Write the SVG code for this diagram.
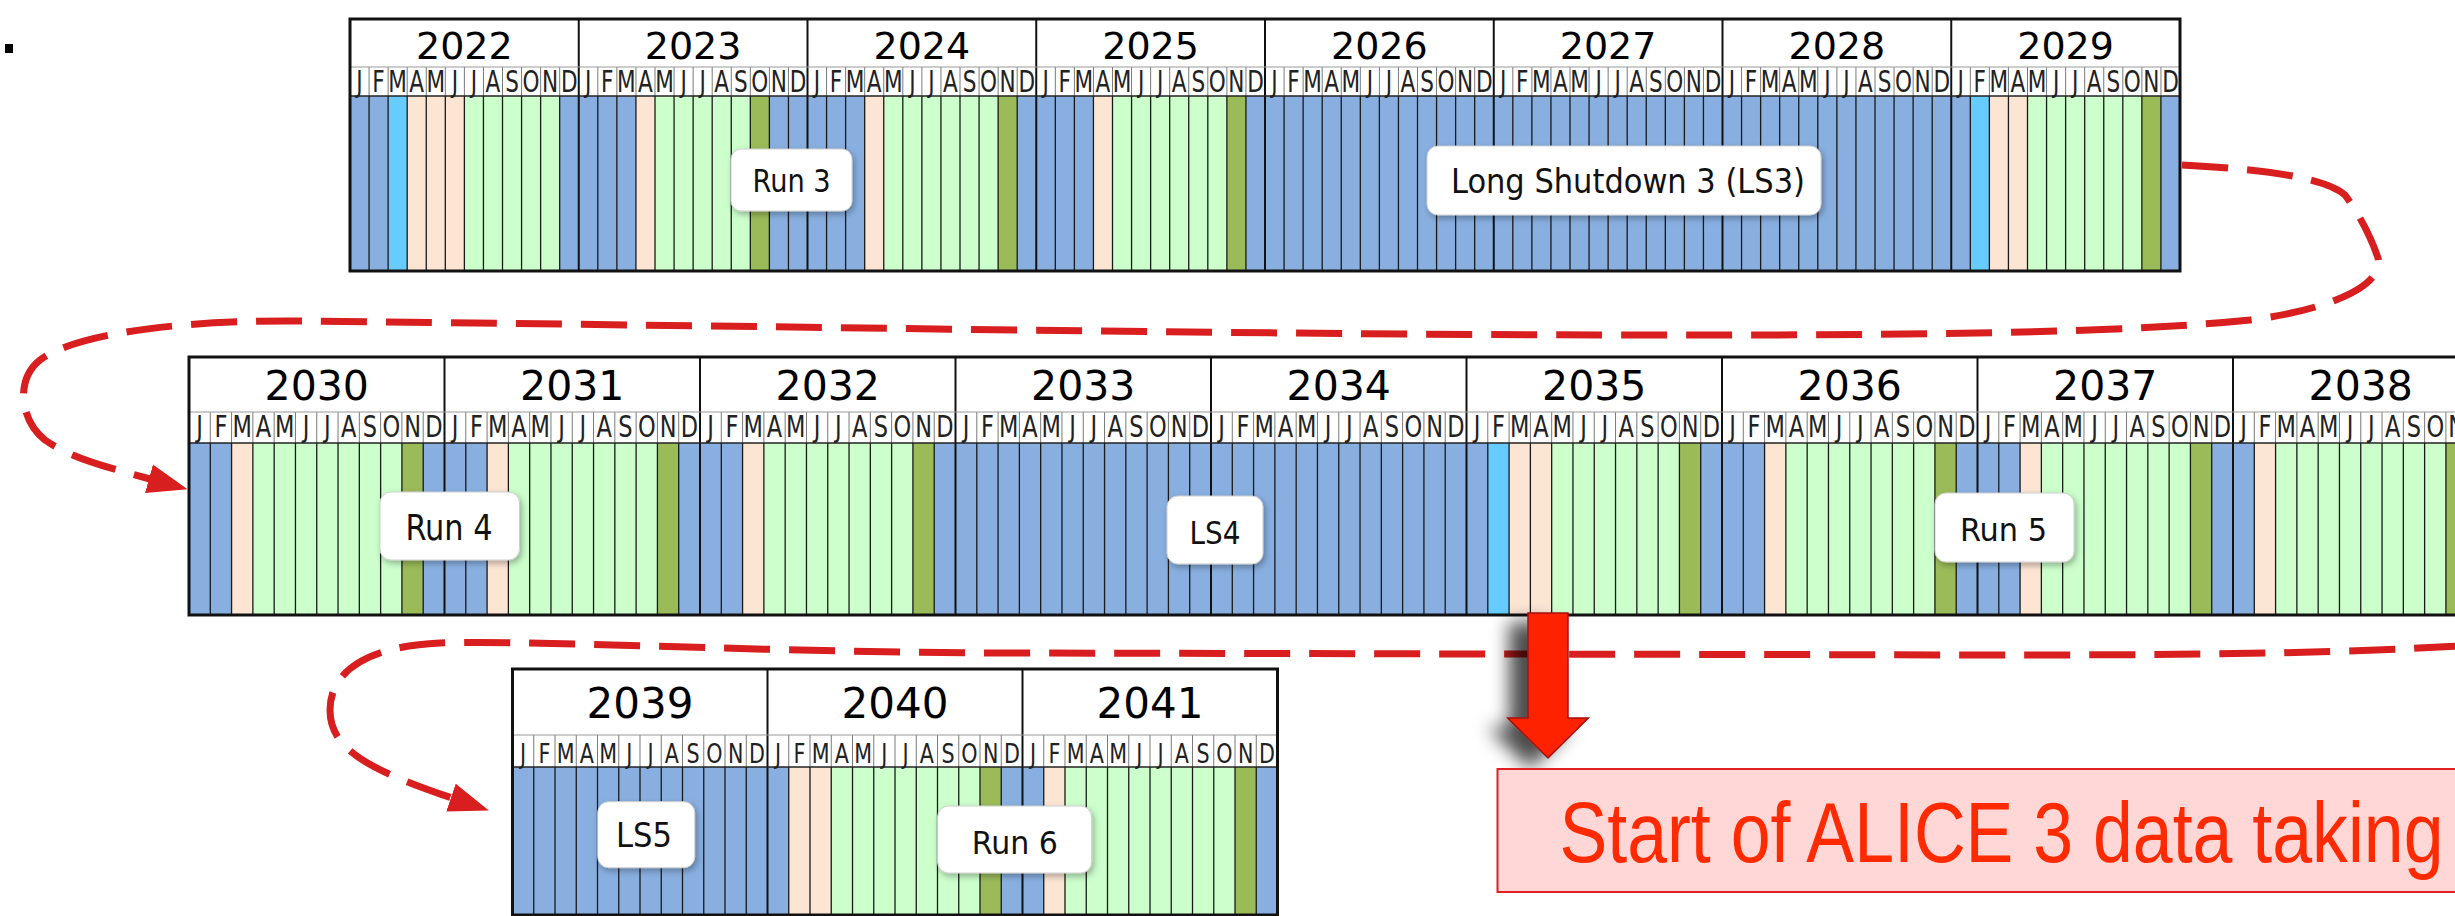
<svg xmlns="http://www.w3.org/2000/svg" xmlns:xlink="http://www.w3.org/1999/xlink" width="2455" height="916" viewBox="0 0 2455 916">
<style>
.b{fill:#88afe0}
.c{fill:#66ccff}
.p{fill:#fde5d4}
.g{fill:#ccffcc}
.o{fill:#9bbb59}
.hdr{fill:#ffffff}
.ml{stroke:#1a1a1a;stroke-width:1.3;fill:none}
.hl{stroke:#7a7a7a;stroke-width:1;fill:none}
.yl{stroke:#111;stroke-width:2;fill:none}
.bd{stroke:#111;stroke-width:3;fill:none}
.sp1{stroke:#999;stroke-width:1;fill:none}
.sp2{stroke:#222;stroke-width:1.6;fill:none}
.yr{font-family:'DejaVu Sans','Liberation Sans',sans-serif;text-anchor:middle;fill:#000}
.yr1{font-size:38px}
.yr2{font-size:41px}
.yr3{font-size:42px}
.mo{font-family:'DejaVu Sans Condensed','DejaVu Sans',sans-serif;font-stretch:condensed;text-anchor:middle;fill:#222}
.mo1{font-size:24px}
.mo2{font-size:25px}
.mo3{font-size:23px}
.box{fill:#ffffff;stroke:#cfcfcf;stroke-width:1}
.lbl{font-family:'DejaVu Sans Condensed','DejaVu Sans',sans-serif;font-stretch:condensed;text-anchor:middle;fill:#111}
.dash{fill:none;stroke:#d81e1e;stroke-width:7;stroke-dasharray:46 19}
</style>
<defs>
<filter id="sh" x="-20%" y="-20%" width="140%" height="150%">
<feDropShadow dx="2" dy="3" stdDeviation="3" flood-color="#000" flood-opacity="0.3"/>
</filter>
<filter id="ash" x="-100%" y="-20%" width="240%" height="150%">
<feDropShadow dx="-18" dy="10" stdDeviation="9" flood-color="#000" flood-opacity="0.7"/>
</filter>
<marker id="ah" markerUnits="userSpaceOnUse" markerWidth="40" markerHeight="30" viewBox="0 0 38 28" refX="1" refY="14" orient="auto">
<path d="M0 0L38 14L0 28Z" fill="#d81e1e"/>
</marker>
<g id="grid1">
<path class="hl" d="M19.0625 67V96m19.0625-29V96m19.0625-29V96m19.0625-29V96m19.0625-29V96m19.0625-29V96m19.0625-29V96m19.0625-29V96m19.0625-29V96m19.0625-29V96m19.0625-29V96"/>
<path class="ml" d="M19.0625 96V271m19.0625-175V271m19.0625-175V271m19.0625-175V271m19.0625-175V271m19.0625-175V271m19.0625-175V271m19.0625-175V271m19.0625-175V271m19.0625-175V271m19.0625-175V271"/>
<path class="yl" d="M0 19V271"/>
</g>
<g id="grid2">
<path class="hl" d="M21.2917 412V443m21.2917-31V443m21.2917-31V443m21.2917-31V443m21.2917-31V443m21.2917-31V443m21.2917-31V443m21.2917-31V443m21.2917-31V443m21.2917-31V443m21.2917-31V443"/>
<path class="ml" d="M21.2917 443V615m21.2917-172V615m21.2917-172V615m21.2917-172V615m21.2917-172V615m21.2917-172V615m21.2917-172V615m21.2917-172V615m21.2917-172V615m21.2917-172V615m21.2917-172V615"/>
<path class="yl" d="M0 357V615"/>
</g>
<g id="grid3">
<path class="hl" d="M21.25 735V767m21.25-32V767m21.25-32V767m21.25-32V767m21.25-32V767m21.25-32V767m21.25-32V767m21.25-32V767m21.25-32V767m21.25-32V767m21.25-32V767"/>
<path class="ml" d="M21.25 767V916m21.25-149V916m21.25-149V916m21.25-149V916m21.25-149V916m21.25-149V916m21.25-149V916m21.25-149V916m21.25-149V916m21.25-149V916m21.25-149V916"/>
<path class="yl" d="M0 669V916"/>
</g>
</defs>
<rect x="0" y="0" width="2455" height="916" fill="#ffffff"/>
<rect id="bullet" x="5" y="44" width="8" height="9" fill="#000"/>

<g id="row1">
<rect class="b" x="350" y="96" width="1830" height="175"/>
<rect class="hdr" x="350" y="19" width="1830" height="77"/>
<g id="y2022" transform="translate(350 0)">
<rect class="c" x="38.125" y="96" width="19.0625" height="175"/>
<rect class="p" x="57.1875" y="96" width="57.1875" height="175"/>
<rect class="g" x="114.375" y="96" width="95.3125" height="175"/>
<use href="#grid1"/>
<text class="yr yr1" x="114.375" y="58.5">2022</text>
<text class="mo mo1" transform="translate(0 91.5) scale(1 1.22)" x="9.53 28.59 47.66 66.72 85.78 104.84 123.91 142.97 162.03 181.09 200.16 219.22" y="0">JFMAMJJASOND</text>
</g>
<g id="y2023" transform="translate(578.75 0)">
<rect class="p" x="57.1875" y="96" width="19.0625" height="175"/>
<rect class="g" x="76.25" y="96" width="95.3125" height="175"/>
<rect class="o" x="171.5625" y="96" width="19.0625" height="175"/>
<use href="#grid1"/>
<text class="yr yr1" x="114.375" y="58.5">2023</text>
<text class="mo mo1" transform="translate(0 91.5) scale(1 1.22)" x="9.53 28.59 47.66 66.72 85.78 104.84 123.91 142.97 162.03 181.09 200.16 219.22" y="0">JFMAMJJASOND</text>
</g>
<g id="y2024" transform="translate(807.5 0)">
<rect class="p" x="57.1875" y="96" width="19.0625" height="175"/>
<rect class="g" x="76.25" y="96" width="114.375" height="175"/>
<rect class="o" x="190.625" y="96" width="19.0625" height="175"/>
<use href="#grid1"/>
<text class="yr yr1" x="114.375" y="58.5">2024</text>
<text class="mo mo1" transform="translate(0 91.5) scale(1 1.22)" x="9.53 28.59 47.66 66.72 85.78 104.84 123.91 142.97 162.03 181.09 200.16 219.22" y="0">JFMAMJJASOND</text>
</g>
<g id="y2025" transform="translate(1036.25 0)">
<rect class="p" x="57.1875" y="96" width="19.0625" height="175"/>
<rect class="g" x="76.25" y="96" width="114.375" height="175"/>
<rect class="o" x="190.625" y="96" width="19.0625" height="175"/>
<use href="#grid1"/>
<text class="yr yr1" x="114.375" y="58.5">2025</text>
<text class="mo mo1" transform="translate(0 91.5) scale(1 1.22)" x="9.53 28.59 47.66 66.72 85.78 104.84 123.91 142.97 162.03 181.09 200.16 219.22" y="0">JFMAMJJASOND</text>
</g>
<g id="y2026" transform="translate(1265 0)">
<use href="#grid1"/>
<text class="yr yr1" x="114.375" y="58.5">2026</text>
<text class="mo mo1" transform="translate(0 91.5) scale(1 1.22)" x="9.53 28.59 47.66 66.72 85.78 104.84 123.91 142.97 162.03 181.09 200.16 219.22" y="0">JFMAMJJASOND</text>
</g>
<g id="y2027" transform="translate(1493.75 0)">
<use href="#grid1"/>
<text class="yr yr1" x="114.375" y="58.5">2027</text>
<text class="mo mo1" transform="translate(0 91.5) scale(1 1.22)" x="9.53 28.59 47.66 66.72 85.78 104.84 123.91 142.97 162.03 181.09 200.16 219.22" y="0">JFMAMJJASOND</text>
</g>
<g id="y2028" transform="translate(1722.5 0)">
<use href="#grid1"/>
<text class="yr yr1" x="114.375" y="58.5">2028</text>
<text class="mo mo1" transform="translate(0 91.5) scale(1 1.22)" x="9.53 28.59 47.66 66.72 85.78 104.84 123.91 142.97 162.03 181.09 200.16 219.22" y="0">JFMAMJJASOND</text>
</g>
<g id="y2029" transform="translate(1951.25 0)">
<rect class="c" x="19.0625" y="96" width="19.0625" height="175"/>
<rect class="p" x="38.125" y="96" width="38.125" height="175"/>
<rect class="g" x="76.25" y="96" width="114.375" height="175"/>
<rect class="o" x="190.625" y="96" width="19.0625" height="175"/>
<use href="#grid1"/>
<text class="yr yr1" x="114.375" y="58.5">2029</text>
<text class="mo mo1" transform="translate(0 91.5) scale(1 1.22)" x="9.53 28.59 47.66 66.72 85.78 104.84 123.91 142.97 162.03 181.09 200.16 219.22" y="0">JFMAMJJASOND</text>
</g>
<path class="sp1" d="M350 67H2180"/>
<path class="sp2" d="M350 96H2180"/>
<path class="bd" d="M350 19H2180V271H350Z"/>
</g>

<g id="row2">
<rect class="b" x="189" y="443" width="2300" height="172"/>
<rect class="hdr" x="189" y="357" width="2300" height="86"/>
<g id="y2030" transform="translate(189 0)">
<rect class="p" x="42.583" y="443" width="21.292" height="172"/>
<rect class="g" x="63.875" y="443" width="149.042" height="172"/>
<rect class="o" x="212.917" y="443" width="21.292" height="172"/>
<use href="#grid2"/>
<text class="yr yr2" x="127.75" y="400">2030</text>
<text class="mo mo2" transform="translate(0 437) scale(1 1.18)" x="10.65 31.94 53.23 74.52 95.81 117.1 138.4 159.69 180.98 202.27 223.56 244.85" y="0">JFMAMJJASOND</text>
</g>
<g id="y2031" transform="translate(444.5 0)">
<rect class="p" x="42.583" y="443" width="21.292" height="172"/>
<rect class="g" x="63.875" y="443" width="149.042" height="172"/>
<rect class="o" x="212.917" y="443" width="21.292" height="172"/>
<use href="#grid2"/>
<text class="yr yr2" x="127.75" y="400">2031</text>
<text class="mo mo2" transform="translate(0 437) scale(1 1.18)" x="10.65 31.94 53.23 74.52 95.81 117.1 138.4 159.69 180.98 202.27 223.56 244.85" y="0">JFMAMJJASOND</text>
</g>
<g id="y2032" transform="translate(700 0)">
<rect class="p" x="42.583" y="443" width="21.292" height="172"/>
<rect class="g" x="63.875" y="443" width="149.042" height="172"/>
<rect class="o" x="212.917" y="443" width="21.292" height="172"/>
<use href="#grid2"/>
<text class="yr yr2" x="127.75" y="400">2032</text>
<text class="mo mo2" transform="translate(0 437) scale(1 1.18)" x="10.65 31.94 53.23 74.52 95.81 117.1 138.4 159.69 180.98 202.27 223.56 244.85" y="0">JFMAMJJASOND</text>
</g>
<g id="y2033" transform="translate(955.5 0)">
<use href="#grid2"/>
<text class="yr yr2" x="127.75" y="400">2033</text>
<text class="mo mo2" transform="translate(0 437) scale(1 1.18)" x="10.65 31.94 53.23 74.52 95.81 117.1 138.4 159.69 180.98 202.27 223.56 244.85" y="0">JFMAMJJASOND</text>
</g>
<g id="y2034" transform="translate(1211 0)">
<use href="#grid2"/>
<text class="yr yr2" x="127.75" y="400">2034</text>
<text class="mo mo2" transform="translate(0 437) scale(1 1.18)" x="10.65 31.94 53.23 74.52 95.81 117.1 138.4 159.69 180.98 202.27 223.56 244.85" y="0">JFMAMJJASOND</text>
</g>
<g id="y2035" transform="translate(1466.5 0)">
<rect class="c" x="21.292" y="443" width="21.292" height="172"/>
<rect class="p" x="42.583" y="443" width="42.583" height="172"/>
<rect class="g" x="85.167" y="443" width="127.75" height="172"/>
<rect class="o" x="212.917" y="443" width="21.292" height="172"/>
<use href="#grid2"/>
<text class="yr yr2" x="127.75" y="400">2035</text>
<text class="mo mo2" transform="translate(0 437) scale(1 1.18)" x="10.65 31.94 53.23 74.52 95.81 117.1 138.4 159.69 180.98 202.27 223.56 244.85" y="0">JFMAMJJASOND</text>
</g>
<g id="y2036" transform="translate(1722 0)">
<rect class="p" x="42.583" y="443" width="21.292" height="172"/>
<rect class="g" x="63.875" y="443" width="149.042" height="172"/>
<rect class="o" x="212.917" y="443" width="21.292" height="172"/>
<use href="#grid2"/>
<text class="yr yr2" x="127.75" y="400">2036</text>
<text class="mo mo2" transform="translate(0 437) scale(1 1.18)" x="10.65 31.94 53.23 74.52 95.81 117.1 138.4 159.69 180.98 202.27 223.56 244.85" y="0">JFMAMJJASOND</text>
</g>
<g id="y2037" transform="translate(1977.5 0)">
<rect class="p" x="42.583" y="443" width="21.292" height="172"/>
<rect class="g" x="63.875" y="443" width="149.042" height="172"/>
<rect class="o" x="212.917" y="443" width="21.292" height="172"/>
<use href="#grid2"/>
<text class="yr yr2" x="127.75" y="400">2037</text>
<text class="mo mo2" transform="translate(0 437) scale(1 1.18)" x="10.65 31.94 53.23 74.52 95.81 117.1 138.4 159.69 180.98 202.27 223.56 244.85" y="0">JFMAMJJASOND</text>
</g>
<g id="y2038" transform="translate(2233 0)">
<rect class="p" x="21.292" y="443" width="21.292" height="172"/>
<rect class="g" x="42.583" y="443" width="170.333" height="172"/>
<rect class="o" x="212.917" y="443" width="21.292" height="172"/>
<use href="#grid2"/>
<text class="yr yr2" x="127.75" y="400">2038</text>
<text class="mo mo2" transform="translate(0 437) scale(1 1.18)" x="10.65 31.94 53.23 74.52 95.81 117.1 138.4 159.69 180.98 202.27 223.56 244.85" y="0">JFMAMJJASOND</text>
</g>
<path class="sp1" d="M189 412H2489"/>
<path class="sp2" d="M189 443H2489"/>
<path class="bd" d="M2489 357H189V615H2489"/>
</g>

<g id="row3">
<rect class="b" x="512.5" y="767" width="765" height="149"/>
<rect class="hdr" x="512.5" y="669" width="765" height="98"/>
<g id="y2039" transform="translate(512.5 0)">
<use href="#grid3"/>
<text class="yr yr3" x="127.5" y="718">2039</text>
<text class="mo mo3" transform="translate(0 763) scale(1 1.12)" x="10.63 31.88 53.13 74.38 95.63 116.88 138.13 159.38 180.63 201.88 223.13 244.38" y="0">JFMAMJJASOND</text>
</g>
<g id="y2040" transform="translate(767.5 0)">
<rect class="p" x="21.25" y="767" width="42.5" height="149"/>
<rect class="g" x="63.75" y="767" width="148.75" height="149"/>
<rect class="o" x="212.5" y="767" width="21.25" height="149"/>
<use href="#grid3"/>
<text class="yr yr3" x="127.5" y="718">2040</text>
<text class="mo mo3" transform="translate(0 763) scale(1 1.12)" x="10.63 31.88 53.13 74.38 95.63 116.88 138.13 159.38 180.63 201.88 223.13 244.38" y="0">JFMAMJJASOND</text>
</g>
<g id="y2041" transform="translate(1022.5 0)">
<rect class="p" x="21.25" y="767" width="21.25" height="149"/>
<rect class="g" x="42.5" y="767" width="170" height="149"/>
<rect class="o" x="212.5" y="767" width="21.25" height="149"/>
<use href="#grid3"/>
<text class="yr yr3" x="127.5" y="718">2041</text>
<text class="mo mo3" transform="translate(0 763) scale(1 1.12)" x="10.63 31.88 53.13 74.38 95.63 116.88 138.13 159.38 180.63 201.88 223.13 244.38" y="0">JFMAMJJASOND</text>
</g>
<path class="sp1" d="M512.5 735H1277.5"/>
<path class="sp2" d="M512.5 767H1277.5"/>
<path class="bd" d="M512.5 669H1277.5V915H512.5Z"/>
</g>

<g id="connectors">
<path class="dash" d="M2182 165C2260 169 2325 177 2345 195C2360 215 2372 240 2378 258C2385 285 2330 310 2250 320C2150 330 2000 336 1600 335C1200 334 700 325 300 321C200 320 80 330 40 360C15 380 20 420 45 440C70 458 110 468 150 479" marker-end="url(#ah)"/>
<path class="dash" d="M2460 646C2350 652 2250 655 2000 655L1000 653C750 652 550 640 440 643C370 646 330 670 330 710C330 750 370 770 452 798" marker-end="url(#ah)"/>
</g>

<g id="lbl-run3">
<rect class="box" x="731" y="149" width="121" height="62" rx="10" filter="url(#sh)"/>
<text class="lbl" x="791.6" y="192" font-size="32" textLength="78" lengthAdjust="spacingAndGlyphs">Run 3</text>
</g>
<g id="lbl-ls3">
<rect class="box" x="1427" y="146" width="394" height="69" rx="11" filter="url(#sh)"/>
<text class="lbl" x="1628" y="193" font-size="33" textLength="354" lengthAdjust="spacingAndGlyphs">Long Shutdown 3 (LS3)</text>
</g>
<g id="lbl-run4">
<rect class="box" x="380" y="492" width="139.5" height="68" rx="11" filter="url(#sh)"/>
<text class="lbl" x="449" y="539.5" font-size="35" textLength="87" lengthAdjust="spacingAndGlyphs">Run 4</text>
</g>
<g id="lbl-ls4">
<rect class="box" x="1167" y="496" width="96" height="68" rx="11" filter="url(#sh)"/>
<text class="lbl" x="1215" y="543.5" font-size="32" textLength="51" lengthAdjust="spacingAndGlyphs">LS4</text>
</g>
<g id="lbl-run5">
<rect class="box" x="1935" y="493" width="139" height="69" rx="11" filter="url(#sh)"/>
<text class="lbl" x="2003.5" y="540.5" font-size="32" textLength="87" lengthAdjust="spacingAndGlyphs">Run 5</text>
</g>
<g id="lbl-ls5">
<rect class="box" x="597.7" y="801.7" width="97" height="66" rx="11" filter="url(#sh)"/>
<text class="lbl" x="644" y="847" font-size="33" textLength="56" lengthAdjust="spacingAndGlyphs">LS5</text>
</g>
<g id="lbl-run6">
<rect class="box" x="937.6" y="806" width="154" height="67" rx="11" filter="url(#sh)"/>
<text class="lbl" x="1014.8" y="853.5" font-size="32" textLength="86" lengthAdjust="spacingAndGlyphs">Run 6</text>
</g>

<g id="alice3-arrow">
<polygon points="1528,613 1568,613 1568,718 1588.4,718 1548,758 1507.7,718 1528,718" fill="#ff2200" stroke="#a01010" stroke-width="1.5" filter="url(#ash)"/>
</g>
<g id="alice3-box">
<rect x="1497.5" y="769" width="965" height="123" fill="#ffd7d7" stroke="#e02020" stroke-width="2"/>
<text x="1559.5" y="861.7" font-family="'Liberation Sans Narrow','Liberation Sans',Arial,sans-serif" font-size="86" fill="#ff2a00" textLength="884" lengthAdjust="spacingAndGlyphs">Start of ALICE 3 data taking</text>
</g>
</svg>
